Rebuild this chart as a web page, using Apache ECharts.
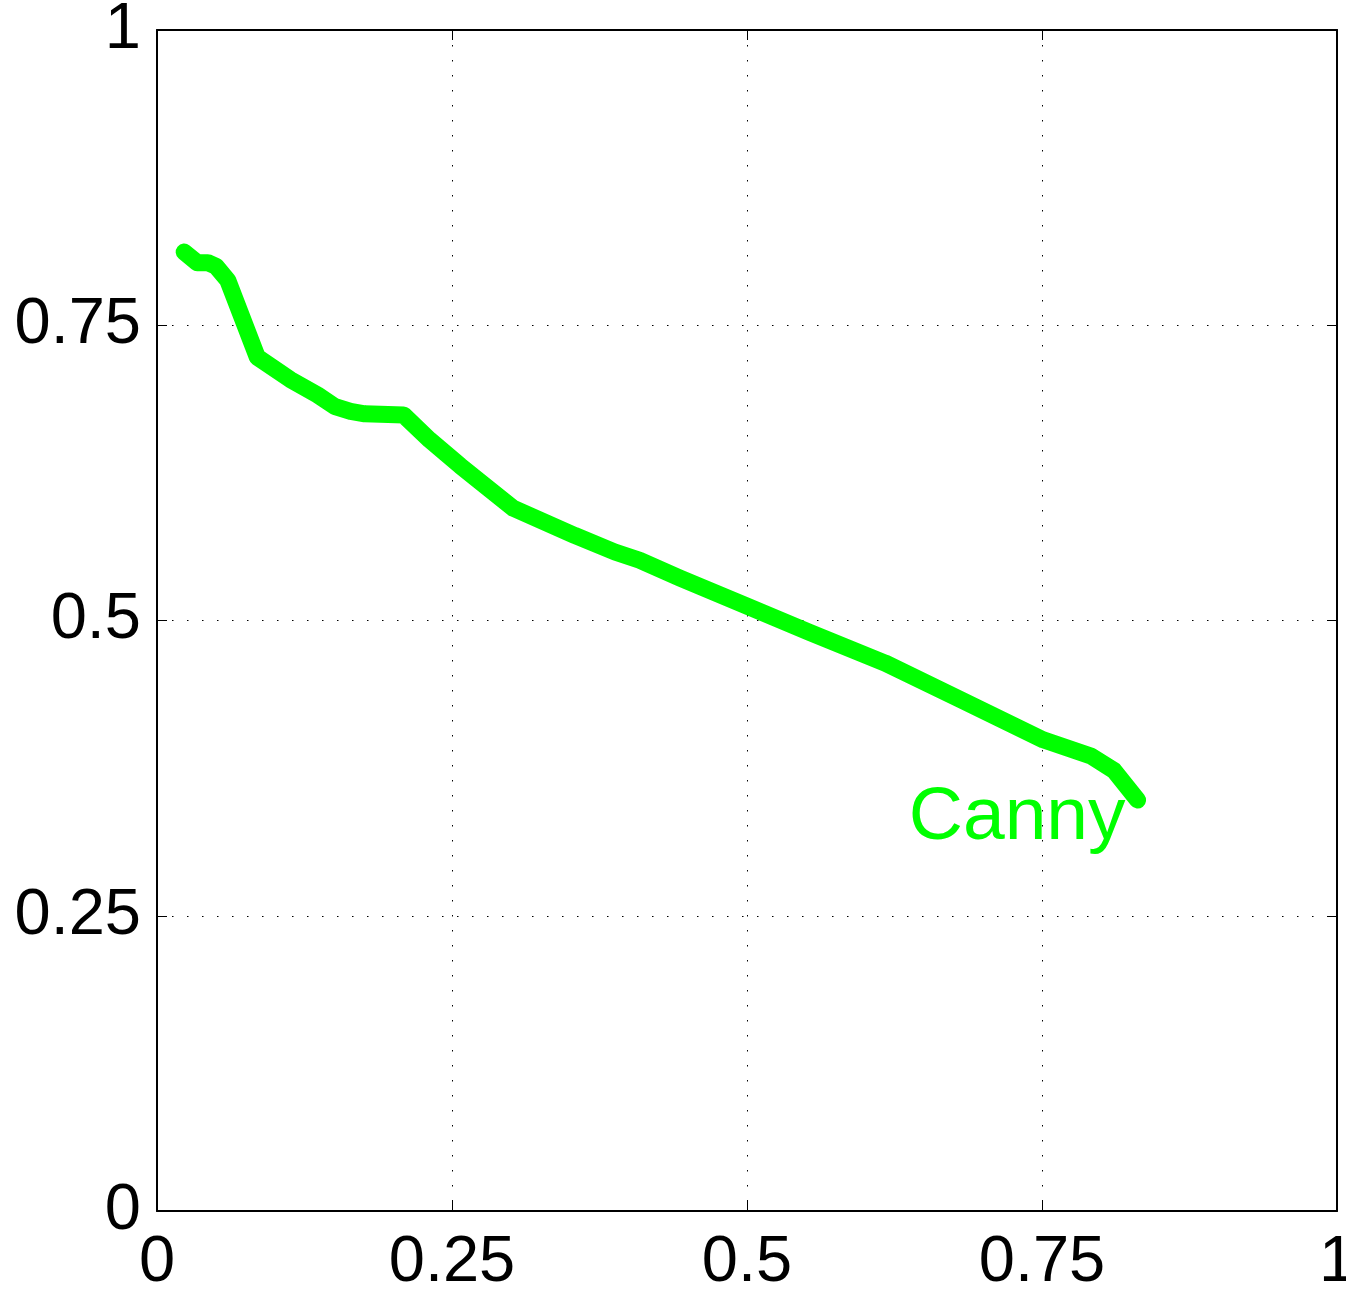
<!DOCTYPE html>
<html>
<head>
<meta charset="utf-8">
<script src="https://cdn.jsdelivr.net/npm/echarts@6/dist/echarts.min.js"></script>
<style>
html,body{margin:0;padding:0;background:#fff;}
#chart{width:1346px;height:1290px;}
</style>
</head>
<body>
<div id="chart"></div>
<script>
// Data (recall x, precision y)
const xValues = [0.023, 0.034, 0.043, 0.050, 0.060, 0.085, 0.113, 0.136, 0.151, 0.164, 0.176, 0.209, 0.231, 0.257, 0.302, 0.354, 0.388, 0.409, 0.443, 0.498, 0.553, 0.617, 0.681, 0.751, 0.792, 0.811, 0.831];
const yValues = [0.812, 0.803, 0.803, 0.800, 0.788, 0.723, 0.704, 0.691, 0.681, 0.677, 0.675, 0.674, 0.653, 0.631, 0.595, 0.572, 0.558, 0.551, 0.536, 0.513, 0.490, 0.464, 0.433, 0.399, 0.385, 0.373, 0.348];
const seriesName = 'Canny';
const tickValues = [0, 0.25, 0.5, 0.75, 1];

const points = xValues.map((x, i) => [x, yValues[i]]);
const FONT = 'Liberation Sans';
const gridLine = {show: true, lineStyle: {color: '#000', width: 1, type: [1.5, 13.5]}};
const fmt = v => String(tickValues.find(t => Math.abs(t - v) < 1e-9) ?? v);
const boxLine = {show: true, onZero: false, lineStyle: {color: '#000', width: 2}};
const tick = {show: true, inside: true, length: 10, lineStyle: {color: '#000', width: 1}};

const chart = echarts.init(document.getElementById('chart'), null, {renderer: 'canvas'});
chart.setOption({
  animation: false,
  backgroundColor: '#fff',
  grid: {left: 157, right: 9, top: 30, bottom: 79, show: false, containLabel: false, outerBoundsMode: 'none'},
  xAxis: [{
    type: 'value', min: 0, max: 1, interval: 0.25, position: 'bottom',
    axisLine: boxLine, axisTick: tick,
    axisLabel: {color: '#000', fontSize: 65, fontFamily: FONT, margin: 20, formatter: fmt},
    splitLine: gridLine
  }, {
    type: 'value', min: 0, max: 1, interval: 0.25, position: 'top',
    axisLine: boxLine, axisTick: tick,
    axisLabel: {show: false}, splitLine: {show: false}
  }],
  yAxis: [{
    type: 'value', min: 0, max: 1, interval: 0.25, position: 'left',
    axisLine: boxLine, axisTick: tick,
    axisLabel: {color: '#000', fontSize: 65, fontFamily: FONT, margin: 16, formatter: fmt},
    splitLine: gridLine
  }, {
    type: 'value', min: 0, max: 1, interval: 0.25, position: 'right',
    axisLine: boxLine, axisTick: tick,
    axisLabel: {show: false}, splitLine: {show: false}
  }],
  series: [{
    name: seriesName,
    type: 'line',
    data: points,
    showSymbol: false,
    symbol: 'none',
    lineStyle: {color: '#00ff00', width: 17, cap: 'round', join: 'round'},
    endLabel: {
      show: true, formatter: seriesName, color: '#00ff00', fontSize: 75, fontFamily: FONT,
      align: 'right', verticalAlign: 'middle', distance: 0, offset: [-12, 18]
    }
  }]
});
</script>
</body>
</html>
